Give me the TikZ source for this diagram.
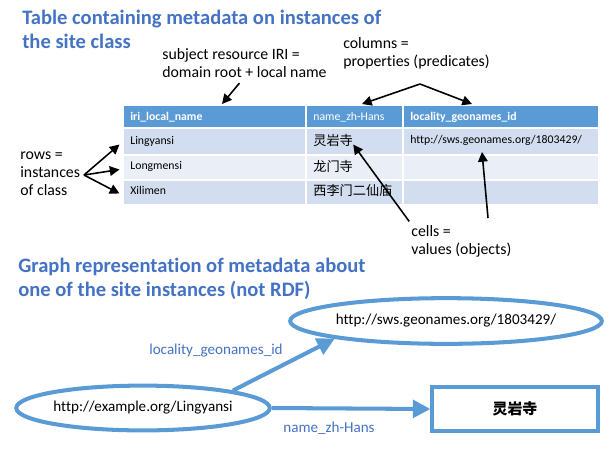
\documentclass[tikz,border=0pt]{standalone}
\usepackage{fontspec}
\setmainfont{Carlito}[Ligatures=NoCommon]
\newfontfamily\cjk{Noto Sans CJK SC}
\usetikzlibrary{arrows.meta,shapes.geometric}

\definecolor{hdrblue}{HTML}{5B9BD5}
\definecolor{rowdark}{HTML}{D2DEEF}
\definecolor{rowlight}{HTML}{EAEFF7}
\definecolor{titleblue}{HTML}{4472C4}

\begin{document}
\begin{tikzpicture}[x=0.02cm,y=-0.02cm,
    heading/.style={anchor=north west,inner sep=0pt,align=left,text=titleblue,
      font=\fontsize{11.7}{13.6}\selectfont\bfseries},
    note/.style={anchor=north west,inner sep=0pt,align=left,
      font=\fontsize{9}{10.4}\selectfont},
    cell/.style={anchor=west,inner sep=0pt,font=\fontsize{6.7}{8}\selectfont},
    ptr/.style={-{Triangle[length=5.5pt,width=5.5pt]},line width=0.9pt},
    blob/.style={ellipse,draw=hdrblue,line width=2.3pt,inner sep=0pt,
      font=\fontsize{8.6}{10}\selectfont},
    link/.style={-{Triangle[length=10pt,width=10pt]},draw=hdrblue,line width=2.3pt},
    edgelabel/.style={inner sep=0pt,text=titleblue,font=\fontsize{8.6}{10}\selectfont}]
  \useasboundingbox (0,0) rectangle (609,458);

  % table part
  \node[heading] (tabtitle) at (22,10) {Table containing metadata on instances of\\the site class};
  \node[note] (subj) at (162,48) {subject resource IRI =\\domain root + local name};
  \node[note] (cols) at (343,37) {columns =\\properties (predicates)};
  \node[note] (rows) at (20,151) {rows =\\instances\\of class};
  \node[note] (cells) at (411,225) {cells =\\values (objects)};

  \fill[hdrblue] (124,106) rectangle (598,128);
  \fill[rowdark] (124,128) rectangle (598,155);
  \fill[rowlight] (124,155) rectangle (598,180);
  \fill[rowdark] (124,180) rectangle (598,204);
  \draw[white,line width=1pt] (124,128) -- (598,128) (124,155) -- (598,155)
    (124,180) -- (598,180) (306,106) -- (306,204) (403,106) -- (403,204);

  \node[cell,text=white,font=\fontsize{6.7}{8}\selectfont\bfseries] (iri) at (130,117) {iri\_local\_name};
  \node[cell,text=white] (zh) at (313,117) {name\_zh-Hans};
  \node[cell,text=white,font=\fontsize{6.7}{8}\selectfont\bfseries] (geo) at (410,117) {locality\_geonames\_id};
  \node[cell] (ling) at (130,141) {Lingyansi};
  \node[cell] (long) at (130,166) {Longmensi};
  \node[cell] (xili) at (130,190) {Xilimen};
  \node[cell,font=\fontsize{7.5}{9}\cjk] (zhling) at (313,141) {灵岩寺};
  \node[cell,font=\fontsize{7.5}{9}\cjk] (zhlong) at (313,166) {龙门寺};
  \node[cell,font=\fontsize{7.5}{9}\cjk] (zhxili) at (313,190) {西李门二仙庙};
  \node[cell] (geoling) at (410,140) {http://sws.geonames.org/1803429/};

  \coordinate (irihead) at (222,104);
  \coordinate (zhhead) at (362,104);
  \coordinate (geohead) at (472,104);
  \coordinate (colfork) at (420,84);
  \coordinate (rowfork) at (84,175);
  \coordinate (urlcell) at (482,152);
  \coordinate (valfork) at (488,218);

  \draw[ptr] (subj.south) ++(-5,5) -- (irihead);
  \draw[ptr] (colfork) -- (zhhead);
  \draw[ptr] (colfork) -- (geohead);
  \draw[ptr] (rowfork) -- ([xshift=-6pt,yshift=-2pt]ling.west);
  \draw[ptr] (rowfork) -- ([xshift=-6pt,yshift=-2pt]long.west);
  \draw[ptr] (rowfork) -- ([xshift=-6pt,yshift=-2pt]xili.west);
  \draw[ptr] ([xshift=-1pt,yshift=2pt]cells.north west) -- ([yshift=-2pt]zhling.east);
  \draw[ptr] (valfork) -- (urlcell);

  % graph part
  \node[heading] (graphtitle) at (18,258) {Graph representation of metadata about\\one of the site instances (not RDF)};
  \node[blob,minimum width=166pt,minimum height=26pt] (geoent) at (446,321) {http://sws.geonames.org/1803429/};
  \node[blob,minimum width=144pt,minimum height=25.5pt] (lingent) at (143,408) {http://example.org/Lingyansi};
  \node[draw=hdrblue,line width=2.3pt,minimum width=94pt,minimum height=25pt,
    font=\fontsize{8.5}{10}\cjk\bfseries] (zhlit) at (515,409) {灵岩寺};

  \draw[link] (lingent.11) -- (geoent.189);
  \draw[link] (lingent.east) -- (zhlit.west);
  \node[edgelabel] (geolab) at (216,351) {locality\_geonames\_id};
  \node[edgelabel] (zhlab) at (329,428) {name\_zh-Hans};
\end{tikzpicture}
\end{document}
